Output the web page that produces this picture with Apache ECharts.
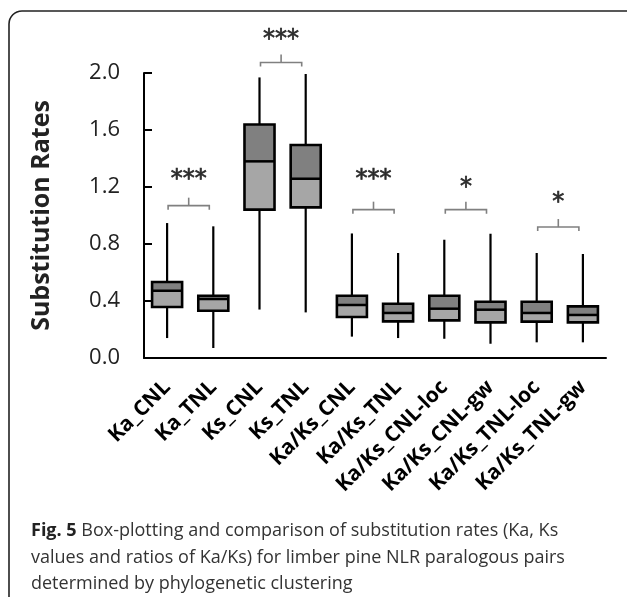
<!DOCTYPE html>
<html>
<head>
<meta charset="utf-8">
<script src="https://cdn.jsdelivr.net/npm/echarts@6/dist/echarts.min.js"></script>
<style>
  html, body { margin: 0; padding: 0; background: #fff; }
  #main { width: 627px; height: 597px; }
</style>
</head>
<body>
<div id="main"></div>
<script>
const categories = ['Ka_CNL', 'Ka_TNL', 'Ks_CNL', 'Ks_TNL', 'Ka/Ks_CNL', 'Ka/Ks_TNL',
  'Ka/Ks_CNL-loc', 'Ka/Ks_CNL-gw', 'Ka/Ks_TNL-loc', 'Ka/Ks_TNL-gw']
const whiskerLow = [0.14, 0.07, 0.34, 0.32, 0.15, 0.14, 0.135, 0.10, 0.11, 0.11]
const q1 = [0.358, 0.332, 1.041, 1.057, 0.288, 0.257, 0.264, 0.250, 0.255, 0.250]
const median = [0.472, 0.414, 1.380, 1.258, 0.372, 0.316, 0.346, 0.339, 0.316, 0.302]
const q3 = [0.533, 0.437, 1.639, 1.495, 0.437, 0.381, 0.437, 0.395, 0.395, 0.362]
const whiskerHigh = [0.947, 0.924, 1.969, 1.993, 0.874, 0.737, 0.830, 0.872, 0.737, 0.730]

// significance brackets between pairs
const pairLeft = [0, 2, 4, 6, 8]
const pairRight = [1, 3, 5, 7, 9]
const bracketLevel = [1.069, 2.074, 1.041, 1.041, 0.919]
const starLevel = [1.293, 2.276, 1.293, 1.239, 1.130]
const stars = ['***', '***', '***', '*', '*']

const yTicks = [0, 0.4, 0.8, 1.2, 1.6, 2.0]

const boxData = categories.map((c, i) => [i, whiskerLow[i], q1[i], median[i], q3[i], whiskerHigh[i]])
const bracketData = pairLeft.map((l, i) => [l, pairRight[i], bracketLevel[i], starLevel[i]])

const chart = echarts.init(document.getElementById('main'))

const renderBox = (params, api) => {
  const idx = api.value(0)
  const pLow = api.coord([idx, api.value(1)])
  const pQ1 = api.coord([idx, api.value(2)])
  const pMed = api.coord([idx, api.value(3)])
  const pQ3 = api.coord([idx, api.value(4)])
  const pHigh = api.coord([idx, api.value(5)])
  const w = api.size([1, 0])[0] * 0.65
  const x = pMed[0]
  const line = { stroke: '#000', lineWidth: 2.2 }
  return {
    type: 'group',
    children: [
      { type: 'line', shape: { x1: x, y1: pLow[1], x2: x, y2: pQ1[1] }, style: line },
      { type: 'line', shape: { x1: x, y1: pQ3[1], x2: x, y2: pHigh[1] }, style: line },
      { type: 'rect', shape: { x: x - w / 2, y: pMed[1], width: w, height: pQ1[1] - pMed[1] },
        style: { fill: '#a6a6a6' } },
      { type: 'rect', shape: { x: x - w / 2, y: pQ3[1], width: w, height: pMed[1] - pQ3[1] },
        style: { fill: '#808080' } },
      { type: 'line', shape: { x1: x - w / 2, y1: pMed[1], x2: x + w / 2, y2: pMed[1] },
        style: { stroke: '#000', lineWidth: 2.5 } },
      { type: 'rect', shape: { x: x - w / 2, y: pQ3[1], width: w, height: pQ1[1] - pQ3[1] },
        style: { fill: 'none', stroke: '#000', lineWidth: 2.6 } },
    ],
  }
}

const renderBracket = (params, api) => {
  const a = api.coord([api.value(0), api.value(2)])
  const b = api.coord([api.value(1), api.value(2)])
  const s = api.coord([api.value(0), api.value(3)])
  const x1 = a[0] + 1
  const x2 = b[0] - 4
  const y = a[1]
  const xm = (x1 + x2) / 2
  const st = { stroke: '#808080', lineWidth: 1.6, fill: 'none' }
  return {
    type: 'group',
    children: [
      { type: 'polyline', shape: { points: [[x1, y + 4], [x1, y], [x2, y], [x2, y + 4]] }, style: st },
      { type: 'line', shape: { x1: xm, y1: y, x2: xm, y2: y - 8 }, style: st },
      {
        type: 'text',
        style: {
          x: xm, y: s[1] + 6,
          text: stars[params.dataIndex],
          fill: '#2a2a2a',
          stroke: '#2a2a2a',
          lineWidth: 0.7,
          font: '24px "DejaVu Sans"',
          align: 'center',
          verticalAlign: 'middle',
        },
      },
    ],
  }
}

const option = {
  animation: false,
  backgroundColor: '#fff',
  grid: { left: 144, right: 21, top: 73, bottom: 239 },
  xAxis: {
    type: 'category',
    data: categories,
    axisLine: { lineStyle: { color: '#000', width: 2 } },
    axisTick: { inside: true, length: 8, lineStyle: { color: '#000', width: 2 } },
    axisLabel: {
      rotate: 45,
      interval: 0,
      margin: 26,
      color: '#000',
      fontFamily: 'Open Sans',
      fontWeight: 'bold',
      fontSize: 21,
    },
    splitLine: { show: false },
  },
  yAxis: {
    type: 'value',
    min: 0,
    max: 2,
    interval: 0.4,
    name: 'Substitution Rates',
    nameLocation: 'middle',
    nameRotate: 90,
    nameGap: 90,
    nameTextStyle: { fontFamily: 'Open Sans', fontWeight: 'bold', fontSize: 25, color: '#222' },
    axisLine: { show: true, lineStyle: { color: '#000', width: 2 } },
    axisTick: { show: true, inside: true, length: 8, lineStyle: { color: '#000', width: 2 } },
    axisLabel: {
      margin: 24,
      color: '#222',
      fontFamily: 'Open Sans',
      fontSize: 22,
      formatter: (v) => (yTicks.some((t) => Math.abs(t - v) < 1e-6) ? v.toFixed(1) : ''),
    },
    splitLine: { show: false },
  },
  graphic: [
    {
      type: 'rect',
      shape: { x: 9, y: 11, width: 660, height: 640, r: 13 },
      style: { fill: 'none', stroke: '#222', lineWidth: 1.6 },
    },
    {
      type: 'text',
      left: 31,
      top: 518,
      style: {
        text: '{b|Fig. 5} Box-plotting and comparison of substitution rates (Ka, Ks\n'
          + 'values and ratios of Ka/Ks) for limber pine NLR paralogous pairs\n'
          + 'determined by phylogenetic clustering',
        font: '18px "Open Sans"',
        fill: '#333',
        lineHeight: 26.5,
        rich: {
          b: { fontWeight: 'bold', fontSize: 18, fontFamily: 'Open Sans', fill: '#222', lineHeight: 26.5 },
        },
      },
    },
  ],
  series: [
    {
      type: 'custom',
      renderItem: renderBox,
      encode: { x: 0, y: [1, 2, 3, 4, 5] },
      data: boxData,
      z: 3,
    },
    {
      type: 'custom',
      renderItem: renderBracket,
      encode: { x: [0, 1], y: [2, 3] },
      data: bracketData,
      clip: false,
      z: 4,
    },
  ],
}

chart.setOption(option)
</script>
</body>
</html>
